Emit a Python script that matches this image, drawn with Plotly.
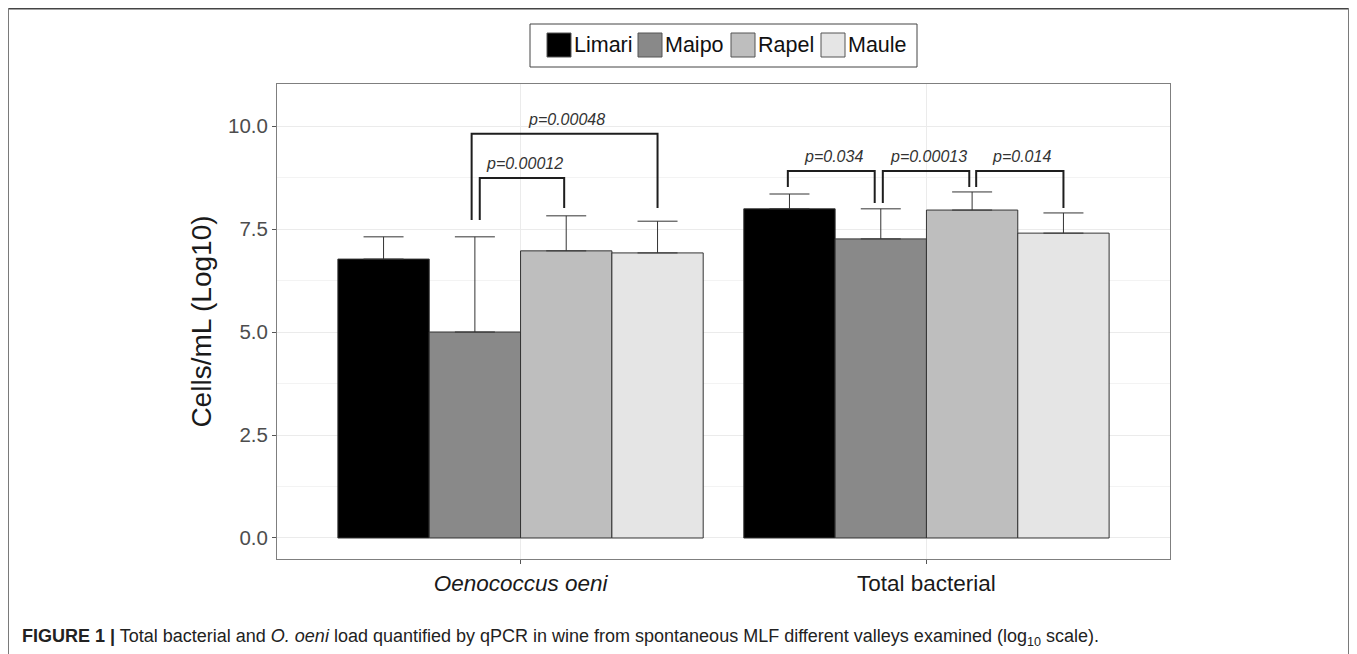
import plotly.graph_objects as go

# ---------------- data ----------------
groups = ["Oenococcus oeni", "Total bacterial"]
group_ticktext = ["<i>Oenococcus oeni</i>", "Total bacterial"]
valleys = ["Limari", "Maipo", "Rapel", "Maule"]
fills = ["#000000", "#898989", "#bebebe", "#e5e5e5"]

means = {
    "Limari": [6.77, 7.99],
    "Maipo": [5.00, 7.26],
    "Rapel": [6.97, 7.96],
    "Maule": [6.92, 7.40],
}
err_up = {
    "Limari": [0.54, 0.36],
    "Maipo": [2.31, 0.73],
    "Rapel": [0.85, 0.44],
    "Maule": [0.77, 0.49],
}

# significance comparisons: group index, valley a, valley b, label
cmp_group = [0, 0, 1, 1, 1]
cmp_a = ["Maipo", "Maipo", "Limari", "Maipo", "Rapel"]
cmp_b = ["Maule", "Rapel", "Maipo", "Rapel", "Maule"]
cmp_label = ["p=0.00048", "p=0.00012", "p=0.034", "p=0.00013", "p=0.014"]
cmp_top = [9.81, 8.74, 8.91, 8.91, 8.91]
cmp_leg_a = [7.72, 7.72, 8.52, 8.13, 8.52]
cmp_leg_b = [8.01, 8.01, 8.13, 8.52, 8.01]
cmp_nudge_a = [-0.008, 0.012, -0.004, 0.005, 0.010]
cmp_nudge_b = [0.0, -0.005, -0.015, -0.007, 0.0]

caption = ("<b>FIGURE 1 |</b> Total bacterial and <i>O. oeni</i> load quantified by qPCR in wine "
           "from spontaneous MLF different valleys examined (log<sub>10</sub> scale).")

# ---------------- figure ----------------
BAR_W = 0.9 / len(valleys)
FONT = "Liberation Sans, Arial, sans-serif"
W, H = 1357, 654
OFF = 8  # page body margin
ML, MT = 277 - OFF, 84 - OFF
MR = W - (1170 - OFF)
MB = H - (559 - OFF)
PW, PH = W - ML - MR, H - MT - MB

fig = go.Figure()
for i, v in enumerate(valleys):
    fig.add_trace(go.Bar(
        name=v,
        x=list(range(len(groups))),
        y=means[v],
        marker=dict(color=fills[i], line=dict(color="#333333", width=1)),
        error_y=dict(type="data", symmetric=False, array=err_up[v],
                     arrayminus=[0] * len(groups), color="#333333",
                     thickness=1, width=20),
        showlegend=False,
    ))


def center(g, v):
    return g + (valleys.index(v) - (len(valleys) - 1) / 2) * BAR_W


shapes = []
annotations = []
for k in range(len(cmp_label)):
    xa = center(cmp_group[k], cmp_a[k]) + cmp_nudge_a[k]
    xb = center(cmp_group[k], cmp_b[k]) + cmp_nudge_b[k]
    top = cmp_top[k]
    path = f"M {xa},{cmp_leg_a[k]} L {xa},{top} L {xb},{top} L {xb},{cmp_leg_b[k]}"
    shapes.append(dict(type="path", path=path, xref="x", yref="y",
                       line=dict(color="#1e1e1e", width=2)))
    annotations.append(dict(x=(xa + xb) / 2 + 0.005, y=top, xref="x", yref="y",
                            text=f"<i>{cmp_label[k]}</i>", showarrow=False,
                            yanchor="bottom", yshift=4,
                            font=dict(family=FONT, size=16, color="#333333")))


def px(x):  # screen pixel -> paper
    return (x - OFF - ML) / PW


def py(y):
    return (H - MB - (y - OFF)) / PH


# manual legend
shapes.append(dict(type="rect", xref="paper", yref="paper",
                   x0=px(530), x1=px(917), y0=py(67), y1=py(24),
                   line=dict(color="#444444", width=1), fillcolor="white", layer="above"))
sq_x = [547, 638, 731, 821]
for i, v in enumerate(valleys):
    shapes.append(dict(type="rect", xref="paper", yref="paper",
                       x0=px(sq_x[i]), x1=px(sq_x[i] + 24), y0=py(57), y1=py(33),
                       line=dict(color="#555555", width=1), fillcolor=fills[i], layer="above"))
    annotations.append(dict(x=px(sq_x[i] + 25), y=py(45), xref="paper", yref="paper",
                            text=v, showarrow=False, xanchor="left", yanchor="middle",
                            font=dict(family=FONT, size=21.5, color="#111111")))

# outer frame
shapes.append(dict(type="line", xref="paper", yref="paper", x0=px(8), x1=px(1349),
                   y0=py(8.5), y1=py(8.5), line=dict(color="#444444", width=2)))
shapes.append(dict(type="line", xref="paper", yref="paper", x0=px(8), x1=px(8),
                   y0=py(8), y1=py(H + OFF), line=dict(color="#7a7a7a", width=2)))
shapes.append(dict(type="line", xref="paper", yref="paper", x0=px(1349), x1=px(1349),
                   y0=py(8), y1=py(H + OFF), line=dict(color="#7a7a7a", width=2)))

# caption
annotations.append(dict(x=px(20), y=py(637), xref="paper", yref="paper",
                        text=caption, showarrow=False, xanchor="left", yanchor="middle",
                        font=dict(family=FONT, size=18, color="#222222")))

fig.update_layout(
    width=W, height=H,
    margin=dict(l=ML, r=MR, t=MT, b=MB),
    paper_bgcolor="white", plot_bgcolor="white",
    barmode="group", bargap=0.1, bargroupgap=0,
    shapes=shapes, annotations=annotations,
    showlegend=False,
    font=dict(family=FONT),
)
fig.update_xaxes(
    range=[-0.6, 1.6], tickvals=list(range(len(groups))), ticktext=group_ticktext,
    showgrid=True, gridcolor="#ebebeb", gridwidth=1, zeroline=False,
    showline=True, mirror=True, linecolor="#7f7f7f", linewidth=1,
    ticks="outside", ticklen=4, tickcolor="#555555",
    tickfont=dict(family=FONT, size=22.5, color="#1a1a1a"),
)
fig.update_yaxes(
    range=[-0.51, 11.02], tickvals=[0, 2.5, 5, 7.5, 10],
    ticktext=["0.0", "2.5", "5.0", "7.5", "10.0"],
    showgrid=True, gridcolor="#ebebeb", gridwidth=1, zeroline=False,
    minor=dict(tickvals=[1.25, 3.75, 6.25, 8.75], showgrid=True, gridcolor="#f3f3f3", gridwidth=1),
    showline=True, mirror=True, linecolor="#7f7f7f", linewidth=1,
    ticks="outside", ticklen=4, tickcolor="#555555",
    tickfont=dict(family=FONT, size=20.5, color="#4d4d4d"),
    title=dict(text="Cells/mL (Log10)", font=dict(family=FONT, size=28, color="#1a1a1a"),
               standoff=8),
)

fig.write_html("out.html")
